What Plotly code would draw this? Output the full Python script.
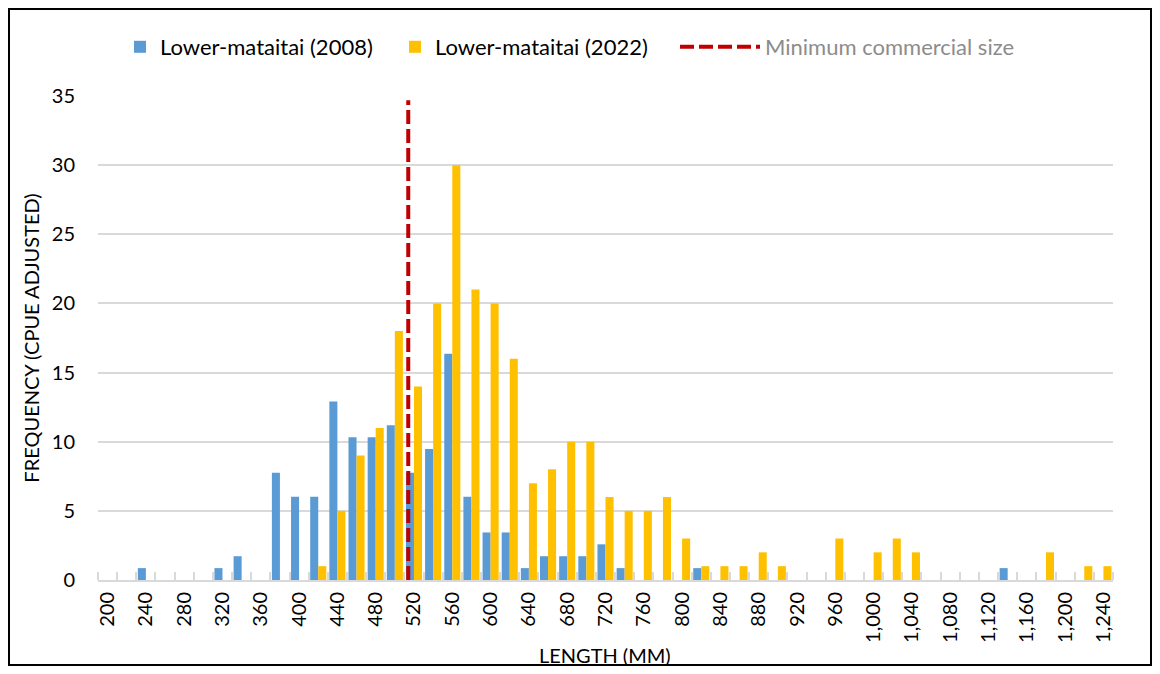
import plotly.graph_objects as go

# length classes (mm), one bar group per 20 mm class
lengths = list(range(200, 1241, 20))

# CPUE-adjusted frequencies
freq_2008 = [
    0, 0, 0.86, 0, 0, 0, 0.86, 1.72, 0, 7.75,      # 200-380
    6.02, 6.02, 12.9, 10.33, 10.33, 11.19, 7.75, 9.47, 16.36, 6.02,  # 400-580
    3.44, 3.44, 0.86, 1.72, 1.72, 1.72, 2.58, 0.86, 0, 0,  # 600-780
    0, 0.86, 0, 0, 0, 0, 0, 0, 0, 0,                # 800-980
    0, 0, 0, 0, 0, 0, 0, 0.86, 0, 0,                # 1000-1180
    0, 0, 0,                                        # 1200-1240
]
freq_2022 = [
    0, 0, 0, 0, 0, 0, 0, 0, 0, 0,                   # 200-380
    0, 1, 5, 9, 11, 18, 14, 20, 30, 21,             # 400-580
    20, 16, 7, 8, 10, 10, 6, 5, 5, 6,               # 600-780
    3, 1, 1, 1, 2, 1, 0, 0, 3, 0,                   # 800-980
    2, 3, 2, 0, 0, 0, 0, 0, 0, 2,                   # 1000-1180
    0, 1, 1,                                        # 1200-1240
]

min_size = 514
min_size_y = [0, 34.7]

FONT = "Lato"
# the page body adds an 8 px margin, so the figure is a bit smaller
PAGE_OFF = 8
W, H = 1160 - 2 * PAGE_OFF, 674 - 2 * PAGE_OFF
ML, MT = 98 - PAGE_OFF, 96 - PAGE_OFF
MR = W - (1113 - PAGE_OFF)
MB = H - (580 - PAGE_OFF)


def px_x(p):
    # page pixel -> paper x
    return (p - PAGE_OFF - ML) / (W - ML - MR)


def px_y(p):
    # page pixel -> paper y
    return (H - MB - (p - PAGE_OFF)) / (H - MT - MB)


fig = go.Figure()

fig.add_trace(go.Bar(
    x=lengths, y=freq_2008, name="Lower-mataitai (2008)",
    marker=dict(color="#5B9BD5", line=dict(width=0)),
    legend="legend",
))
fig.add_trace(go.Bar(
    x=lengths, y=freq_2022, name="Lower-mataitai (2022)",
    marker=dict(color="#FFC000", line=dict(width=0)),
    legend="legend2",
))
fig.add_trace(go.Scatter(
    x=[min_size, min_size], y=min_size_y, mode="lines",
    name="<span style='color:#8c8c8c'>Minimum commercial size</span>",
    line=dict(color="#C00000", width=4, dash="14px,5px"),
    legend="legend3",
))

legend_style = dict(
    orientation="h", yanchor="middle", y=px_y(47), xanchor="left",
    font=dict(family=FONT, size=22, color="#000000"),
    bgcolor="rgba(0,0,0,0)",
)

fig.update_layout(
    width=W, height=H,
    margin=dict(l=ML, r=MR, t=MT, b=MB, autoexpand=False),
    paper_bgcolor="white",
    plot_bgcolor="white",
    font=dict(family=FONT, size=20, color="#000000"),
    barmode="group",
    bargap=0.16,
    bargroupgap=0,
    showlegend=True,
    legend=dict(legend_style, x=px_x(120)),
    legend2=dict(legend_style, x=px_x(395)),
    legend3=dict(legend_style, x=px_x(675), itemwidth=80),
    xaxis=dict(
        range=[190, 1250],
        tickmode="linear", tick0=200, dtick=40,
        tickformat=",d",
        tickangle=-90,
        ticks="",
        ticklabelstandoff=2,
        showgrid=False,
        showline=True, linecolor="#D9D9D9", linewidth=2,
        minor=dict(ticks="inside", tick0=190, dtick=20, ticklen=8,
                   tickcolor="#D9D9D9", tickwidth=2, showgrid=False),
        zeroline=False,
    ),
    yaxis=dict(
        range=[0, 35],
        tickmode="linear", tick0=0, dtick=5,
        showgrid=True, gridcolor="#D9D9D9", gridwidth=1.5,
        zeroline=False,
        ticks="",
        ticklabelstandoff=22,
        title=dict(text="FREQUENCY (CPUE ADJUSTED)",
                   font=dict(family=FONT, size=20), standoff=6),
    ),
    annotations=[dict(
        text="LENGTH (MM)", xref="paper", yref="paper",
        x=px_x(605), y=px_y(655), xanchor="center", yanchor="middle",
        showarrow=False, font=dict(family=FONT, size=20, color="#000000"),
    )],
    shapes=[dict(
        type="rect", xref="paper", yref="paper",
        x0=px_x(PAGE_OFF + 1), x1=px_x(1160 - PAGE_OFF - 1),
        y0=px_y(674 - PAGE_OFF - 1), y1=px_y(PAGE_OFF + 1),
        line=dict(color="black", width=2), fillcolor="rgba(0,0,0,0)",
        layer="below",
    )],
)

fig.write_html("out.html")
